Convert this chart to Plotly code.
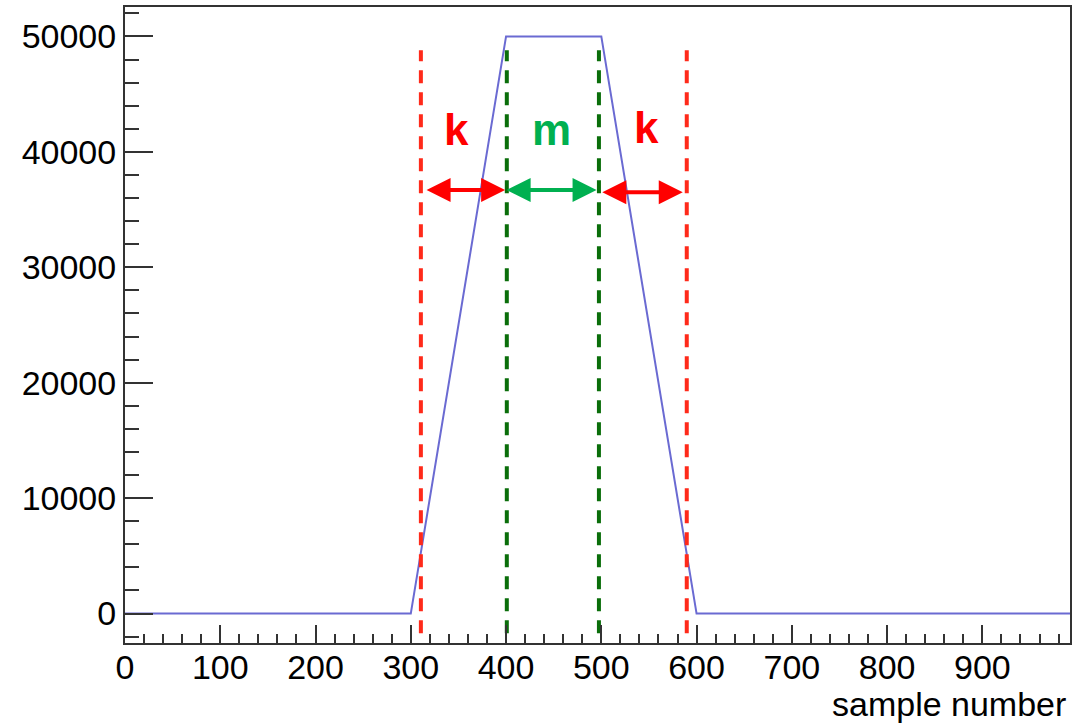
import plotly.graph_objects as go

# waveform vertices (sample number, amplitude)
wave_x = [0, 300, 400, 500, 600, 992]
wave_y = [0, 0, 50000, 50000, 0, 0]

# dashed marker lines
red_lines_x = [310.6, 589.7]
green_lines_x = [400.8, 497.5]
line_y_top = 48800
line_y_bot = -1700

# arrows (start, end, y) and labels
arrow_start = [315, 399, 499.5]
arrow_end = [399, 495, 585.5]
arrow_y = [36700, 36700, 36500]
arrow_colors = ["#ff0000", "#00b050", "#ff0000"]
label_text = ["k", "m", "k"]
label_x = [348, 447.7, 547.4]
label_y = [41900, 41900, 42100]

x_ticks = [0, 100, 200, 300, 400, 500, 600, 700, 800, 900]
y_ticks = [0, 10000, 20000, 30000, 40000, 50000]

RED = "#ff2a1a"
DGREEN = "#0a6e0a"
FONT = "Liberation Sans"

fig = go.Figure()
fig.add_trace(go.Scatter(x=wave_x, y=wave_y, mode="lines",
                         line=dict(color="#6a6ad2", width=2), hoverinfo="skip"))
for xv in red_lines_x:
    fig.add_trace(go.Scatter(x=[xv, xv], y=[line_y_bot, line_y_top], mode="lines",
                             line=dict(color=RED, width=4, dash="13px,9px")))
for xv in green_lines_x:
    fig.add_trace(go.Scatter(x=[xv, xv], y=[line_y_bot, line_y_top], mode="lines",
                             line=dict(color=DGREEN, width=4, dash="13px,9px")))

for s, e, yv, c in zip(arrow_start, arrow_end, arrow_y, arrow_colors):
    fig.add_annotation(x=e, y=yv, ax=s, ay=yv, xref="x", yref="y", axref="x", ayref="y",
                       text="", showarrow=True, arrowside="end+start", arrowhead=2,
                       arrowsize=1.2, arrowwidth=4, arrowcolor=c)
for t, xv, yv, c in zip(label_text, label_x, label_y, arrow_colors):
    fig.add_annotation(x=xv, y=yv, xref="x", yref="y", text="<b>%s</b>" % t,
                       showarrow=False, font=dict(family=FONT, size=44, color=c))

fig.add_annotation(x=1, y=0, xref="paper", yref="paper", xanchor="right", yanchor="top",
                   xshift=-2, yshift=-40, text="sample number", showarrow=False,
                   font=dict(family=FONT, size=34, color="black"))

axis_common = dict(showgrid=False, zeroline=False, showline=True, mirror=True,
                   linecolor="#333333", linewidth=2, ticks="inside", tickcolor="#333333",
                   tickwidth=2, layer="above traces",
                   tickfont=dict(family=FONT, size=34, color="black"))

fig.update_xaxes(range=[0, 992], tickmode="array", tickvals=x_ticks,
                 ticktext=[str(v) for v in x_ticks], ticklen=18, ticklabelstandoff=-7,
                 minor=dict(dtick=20, tick0=0, ticks="inside", ticklen=9,
                            tickcolor="#333333", tickwidth=2),
                 **axis_common)
fig.update_yaxes(range=[-2550, 52550], tickmode="array", tickvals=y_ticks,
                 ticktext=[str(v) for v in y_ticks], ticklen=28,
                 minor=dict(dtick=2000, tick0=0, ticks="inside", ticklen=14,
                            tickcolor="#333333", tickwidth=2),
                 **axis_common)

fig.update_layout(width=1074, height=725, showlegend=False,
                  margin=dict(l=125, r=4, t=7, b=82, autoexpand=False),
                  plot_bgcolor="white", paper_bgcolor="white")

fig.write_html("out.html", config={"displayModeBar": False},
               post_script="document.body.style.margin='0';")
